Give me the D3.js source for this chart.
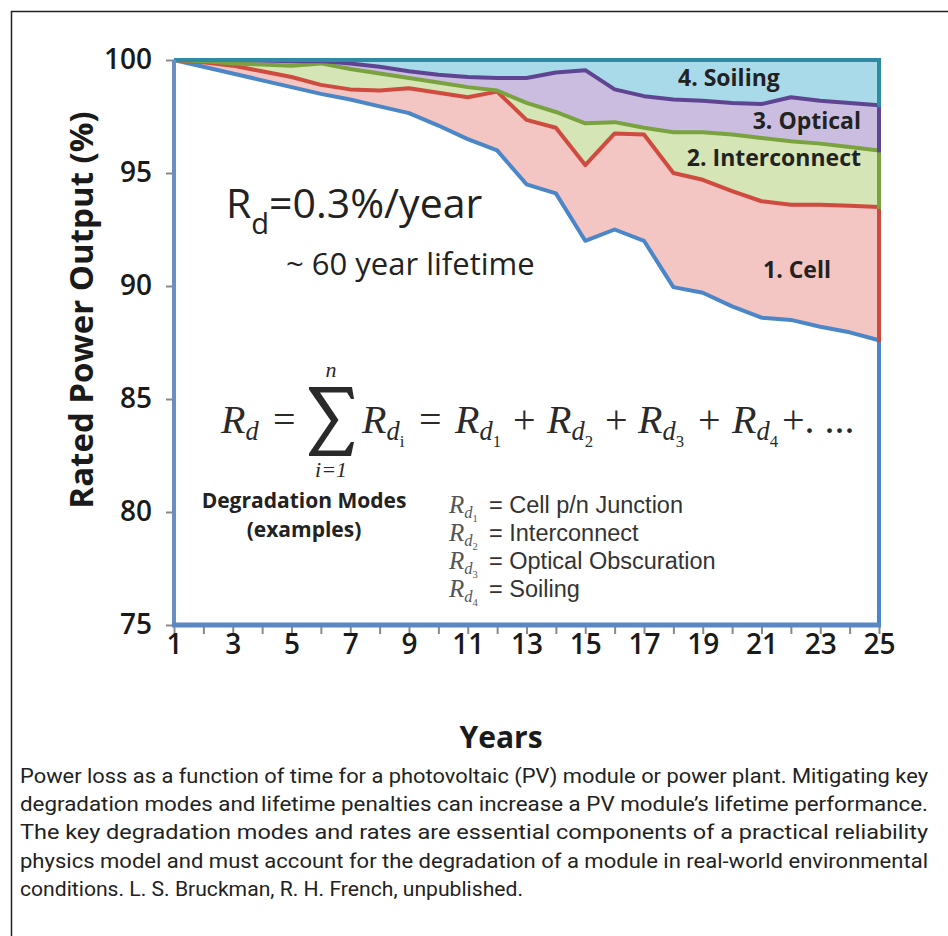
<!DOCTYPE html>
<html>
<head>
<meta charset="utf-8">
<script src="https://cdn.jsdelivr.net/npm/d3@7"></script>
<style>
  html, body { margin: 0; padding: 0; background: #fff; }
  svg { display: block; }
</style>
</head>
<body>
<svg id="chart" width="948" height="936"></svg>
<script>
// ---------------- data ----------------
const years = [1,2,3,4,5,6,7,8,9,10,11,12,13,14,15,16,17,18,19,20,21,22,23,24,25];
// cumulative levels (% rated power)
const totalLevel =        [100, 99.7, 99.4, 99.1, 98.8, 98.5, 98.25, 97.95, 97.65, 97.1, 96.5, 96.0, 94.5, 94.1, 92.0, 92.5, 92.0, 89.95, 89.7, 89.1, 88.6, 88.5, 88.2, 87.95, 87.6];
const cellTop =           [100, 99.9, 99.75, 99.5, 99.25, 98.9, 98.7, 98.65, 98.75, 98.55, 98.35, 98.6, 97.35, 97.0, 95.35, 96.75, 96.7, 95.0, 94.7, 94.2, 93.75, 93.6, 93.6, 93.55, 93.5];
const interconnectTop =   [100, 99.95, 99.85, 99.8, 99.75, 99.85, 99.6, 99.4, 99.2, 99.0, 98.8, 98.65, 98.1, 97.7, 97.2, 97.25, 97.0, 96.8, 96.8, 96.7, 96.55, 96.4, 96.3, 96.15, 96.0];
const opticalTop =        [100, 100, 100, 99.98, 99.95, 99.95, 99.85, 99.7, 99.5, 99.35, 99.25, 99.2, 99.2, 99.45, 99.55, 98.7, 98.4, 98.25, 98.2, 98.1, 98.05, 98.35, 98.2, 98.1, 98.0];
const soilingTop =        [100, 100, 100, 100, 100, 100, 100, 100, 100, 100, 100, 100, 100, 100, 100, 100, 100, 100, 100, 100, 100, 100, 100, 100, 100];
const yTickValues = [75, 80, 85, 90, 95, 100];
const xTickLabels = [1, 3, 5, 7, 9, 11, 13, 15, 17, 19, 21, 23, 25];
const layerNames = ["1. Cell", "2. Interconnect", "3. Optical", "4. Soiling"];
const modeNames = ["Cell p/n Junction", "Interconnect", "Optical Obscuration", "Soiling"];
const captionLines = [
  "Power loss as a function of time for a photovoltaic (PV) module or power plant. Mitigating key",
  "degradation modes and lifetime penalties can increase a PV module\u2019s lifetime performance.",
  "The key degradation modes and rates are essential components of a practical reliability",
  "physics model and must account for the degradation of a module in real-world environmental",
  "conditions. L. S. Bruckman, R. H. French, unpublished."
];

// ---------------- setup ----------------
const svg = d3.select("#chart");
const SANS = "'Open Sans', 'Noto Sans', sans-serif";
const SERIF = "'Liberation Serif', 'DejaVu Serif', serif";

svg.append("rect").attr("x", 11.5).attr("y", 11.5).attr("width", 1000).attr("height", 1000)
  .attr("fill", "none").attr("stroke", "#222").attr("stroke-width", 1.5);

const x = d3.scaleLinear().domain([1, 25]).range([174, 879]);
const y = d3.scaleLinear().domain([75, 100]).range([625, 60]);

const rows = years.map((yr, i) => ({
  yr, total: totalLevel[i], cell: cellTop[i], inter: interconnectTop[i],
  optical: opticalTop[i], soil: soilingTop[i]
}));

const layers = [
  { lo: "total", hi: "cell",    fill: "#f3c5c3" },
  { lo: "cell",  hi: "inter",   fill: "#d5e5b6" },
  { lo: "inter", hi: "optical", fill: "#cabde0" },
  { lo: "optical", hi: "soil",  fill: "#a8dae9" }
];
const g = svg.append("g");
layers.forEach(L => {
  g.append("path").datum(rows)
    .attr("fill", L.fill)
    .attr("d", d3.area().x(d => x(d.yr)).y0(d => y(d[L.lo])).y1(d => y(d[L.hi])));
});

// axes
const yAxis = d3.axisLeft(y).tickValues(yTickValues).tickSize(8).tickPadding(14);
const yG = svg.append("g").attr("transform", "translate(174,0)").call(yAxis);
yG.select(".domain").remove();
yG.selectAll(".tick line").attr("stroke", "#8a8a8a").attr("stroke-width", 2);
yG.selectAll(".tick text").attr("font-family", SANS).attr("font-size", 28)
  .attr("font-weight", 600).attr("fill", "#1a1a1a");

const xAxis = d3.axisBottom(x).tickValues(years).tickSize(9).tickPadding(0)
  .tickFormat(d => xTickLabels.includes(d) ? d : "");
const xG = svg.append("g").attr("transform", "translate(0,625)").call(xAxis);
xG.select(".domain").remove();
xG.selectAll(".tick line").attr("stroke", "#8a8a8a").attr("stroke-width", 2);
xG.selectAll(".tick text").attr("font-family", SANS).attr("font-size", 28)
  .attr("font-weight", 600).attr("fill", "#1a1a1a");

// axis lines (outline of base area)
svg.append("line").attr("x1", x(1)).attr("x2", x(1)).attr("y1", y(100)).attr("y2", y(75))
  .attr("stroke", "#6b8fc2").attr("stroke-width", 4);
svg.append("line").attr("x1", x(1) - 2).attr("x2", x(25) + 2).attr("y1", y(75)).attr("y2", y(75))
  .attr("stroke", "#5b88c4").attr("stroke-width", 5);

// series outlines
const series = [
  { key: "total",   lo: null,      color: "#4a86c8" },
  { key: "cell",    lo: "total",   color: "#cf4a3f" },
  { key: "inter",   lo: "cell",    color: "#7aa23f" },
  { key: "optical", lo: "inter",   color: "#5f4591" },
  { key: "soil",    lo: "optical", color: "#2e8ba3" }
];
const last = rows[rows.length - 1];
series.forEach(S => {
  g.append("path").datum(rows)
    .attr("fill", "none").attr("stroke", S.color).attr("stroke-width", 4)
    .attr("stroke-linejoin", "round")
    .attr("d", d3.line().x(d => x(d.yr)).y(d => y(d[S.key])));
  const lo = S.lo ? last[S.lo] : 75;
  g.append("line").attr("x1", x(last.yr)).attr("x2", x(last.yr))
    .attr("y1", y(lo)).attr("y2", y(last[S.key]))
    .attr("stroke", S.color).attr("stroke-width", 4).attr("stroke-linecap", "square");
});

// axis titles
svg.append("text").attr("transform", "translate(93,310) rotate(-90)")
  .attr("text-anchor", "middle").attr("font-family", SANS).attr("font-size", 33)
  .attr("font-weight", 700).attr("fill", "#1a1a1a").text("Rated Power Output (%)");
svg.append("text").attr("x", 501).attr("y", 748).attr("text-anchor", "middle")
  .attr("font-family", SANS).attr("font-size", 30).attr("font-weight", 700)
  .attr("fill", "#1a1a1a").text("Years");

// layer labels
const lbl = (t, xx, yy, anchor) => svg.append("text").attr("x", xx).attr("y", yy)
  .attr("text-anchor", anchor).attr("font-family", SANS).attr("font-size", 23)
  .attr("font-weight", 700).attr("fill", "#222").text(t);
lbl(layerNames[3], 678, 86, "start");
lbl(layerNames[2], 861, 129, "end");
lbl(layerNames[1], 861, 166, "end");
lbl(layerNames[0], 763, 278, "start");

// Rd = 0.3%/year
const t1 = svg.append("text").attr("x", 226).attr("y", 218).attr("font-family", SANS)
  .attr("font-size", 41).attr("fill", "#222");
t1.append("tspan").text("R");
t1.append("tspan").attr("font-size", 29).attr("dy", 16).text("d");
t1.append("tspan").attr("dy", -16).text("=0.3%/year");
svg.append("text").attr("x", 286).attr("y", 275).attr("font-family", SANS)
  .attr("font-size", 31).attr("fill", "#222").text("~ 60 year lifetime");

// equation
const eq = svg.append("g").attr("font-family", SERIF).attr("fill", "#2a2a2a");
function Rsub(parent, xx, base, sub, size, col) {
  const t = parent.append("text").attr("x", xx).attr("y", base).attr("font-size", size)
    .attr("font-family", SERIF).attr("font-style", "italic").attr("fill", col || "#2a2a2a");
  t.append("tspan").text("R");
  t.append("tspan").attr("font-size", size * 0.66).attr("dy", size * 0.18).text("d");
  if (sub) t.append("tspan").attr("font-size", size * 0.42).attr("dy", size * 0.16)
    .attr("font-style", "normal").text(sub);
}
const EB = 433;
Rsub(eq, 221, EB, null, 40);
eq.append("text").attr("x", 273).attr("y", EB).attr("font-size", 40).text("=");
// summation sign drawn as a shape
eq.append("path").attr("fill", "#2a2a2a")
  .attr("d", "M309,387 L352,387 L354,399 L351,399 L347,392.5 L320,392.5 L338.5,420 L318,450.5 L345,450.5 L351,442 L354,442 L351,456 L309,456 L309,453.5 L331,421 L309,389.5 Z");
eq.append("text").attr("x", 331).attr("y", 377).attr("text-anchor", "middle")
  .attr("font-size", 22).attr("font-style", "italic").text("n");
eq.append("text").attr("x", 331).attr("y", 477).attr("text-anchor", "middle")
  .attr("font-size", 22).attr("font-style", "italic").text("i=1");
Rsub(eq, 362, EB, "i", 40);
eq.append("text").attr("x", 419).attr("y", EB).attr("font-size", 40).text("=");
Rsub(eq, 455, EB, "1", 40);
eq.append("text").attr("x", 513).attr("y", EB).attr("font-size", 40).text("+");
Rsub(eq, 547, EB, "2", 40);
eq.append("text").attr("x", 605).attr("y", EB).attr("font-size", 40).text("+");
Rsub(eq, 638, EB, "3", 40);
eq.append("text").attr("x", 698).attr("y", EB).attr("font-size", 40).text("+");
Rsub(eq, 732, EB, "4", 40);
eq.append("text").attr("x", 782).attr("y", EB).attr("font-size", 40).text("+. ...");

// degradation modes
svg.append("text").attr("x", 304).attr("y", 508).attr("text-anchor", "middle")
  .attr("font-family", SANS).attr("font-size", 21).attr("font-weight", 700)
  .attr("fill", "#222").text("Degradation Modes");
svg.append("text").attr("x", 304).attr("y", 537).attr("text-anchor", "middle")
  .attr("font-family", SANS).attr("font-size", 21).attr("font-weight", 700)
  .attr("fill", "#222").text("(examples)");
const legG = svg.append("g");
modeNames.forEach((m, i) => {
  const base = 513 + i * 28;
  Rsub(legG, 449, base, String(i + 1), 25, "#555");
  legG.append("text").attr("x", 489).attr("y", base)
    .attr("font-family", "'Liberation Sans', Arial, sans-serif")
    .attr("font-size", 23.5).attr("fill", "#333").text("= " + m);
});

// caption
const capWidths = [908, 908, 908, 908, 503];
captionLines.forEach((line, i) => {
  svg.append("text").attr("x", 20).attr("y", 783 + i * 28.2)
    .attr("font-family", "'Liberation Sans Narrow', 'Roboto', sans-serif")
    .attr("font-size", 21).attr("fill", "#222")
    .attr("textLength", capWidths[i]).attr("lengthAdjust", "spacingAndGlyphs")
    .text(line);
});
</script>
</body>
</html>
